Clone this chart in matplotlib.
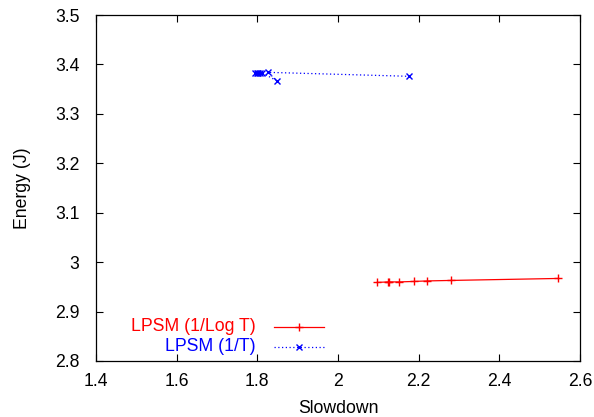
import matplotlib
matplotlib.use("Agg")
import matplotlib.pyplot as plt

plt.rcParams['font.family'] = ['Liberation Sans', 'DejaVu Sans']

# Data
red_label = "LPSM (1/Log T)"
red_x = [2.097, 2.125, 2.127, 2.152, 2.189, 2.221, 2.280, 2.546]
red_y = [2.959, 2.960, 2.960, 2.960, 2.961, 2.962, 2.963, 2.967]

blue_label = "LPSM (1/T)"
blue_x = [1.794, 1.798, 1.802, 1.807, 1.812, 1.848, 1.827, 2.176]
blue_y = [3.383, 3.383, 3.383, 3.383, 3.383, 3.367, 3.384, 3.376]

x_ticks = [1.4, 1.6, 1.8, 2.0, 2.2, 2.4, 2.6]
x_ticklabels = ["1.4", "1.6", "1.8", "2", "2.2", "2.4", "2.6"]
y_ticks = [2.8, 2.9, 3.0, 3.1, 3.2, 3.3, 3.4, 3.5]
y_ticklabels = ["2.8", "2.9", "3", "3.1", "3.2", "3.3", "3.4", "3.5"]

FS = 12.7

fig = plt.figure(figsize=(5.94, 4.17), dpi=100)
ax = fig.add_axes([0.1616, 0.1343, 0.8148, 0.8297])

ax.plot(red_x, red_y, color='red', lw=0.9, marker='+', ms=6, mew=1.0)
ax.plot(blue_x, blue_y, color='blue', lw=0.9, ls=(0, (1, 2)), marker='x', ms=5, mew=1.0)

ax.set_xlim(1.4, 2.6)
ax.set_ylim(2.8, 3.5)
ax.set_xticks(x_ticks)
ax.set_xticklabels(x_ticklabels)
ax.set_yticks(y_ticks)
ax.set_yticklabels(y_ticklabels)
ax.tick_params(direction='in', top=True, right=True, length=5, width=0.8, labelsize=FS)
ax.tick_params(axis='x', pad=9)
ax.tick_params(axis='y', pad=12)
for s in ax.spines.values():
    s.set_linewidth(0.9)
ax.set_xlabel("Slowdown", fontsize=FS, labelpad=7)
ax.set_ylabel("Energy (J)", fontsize=FS, labelpad=17)

# gnuplot-style key (text right-aligned before sample)
def key(row_y, label, color, ls, marker, ms):
    tx = (256 - 96) / 484
    x0 = (274 - 96) / 484
    x1 = (324 - 96) / 484
    ax.text(tx, row_y, label, color=color, fontsize=FS, ha='right', va='center',
            transform=ax.transAxes)
    ax.plot([x0, x1], [row_y, row_y], color=color, lw=0.9, ls=ls,
            transform=ax.transAxes, clip_on=False)
    ax.plot([(x0 + x1) / 2], [row_y], color=color, marker=marker, ms=ms, mew=1.0,
            transform=ax.transAxes, clip_on=False)

key((361 - 327) / 346, red_label, 'red', '-', '+', 6)
key((361 - 347) / 346, blue_label, 'blue', (0, (1, 2)), 'x', 5)

fig.savefig("out.png", dpi=100)
